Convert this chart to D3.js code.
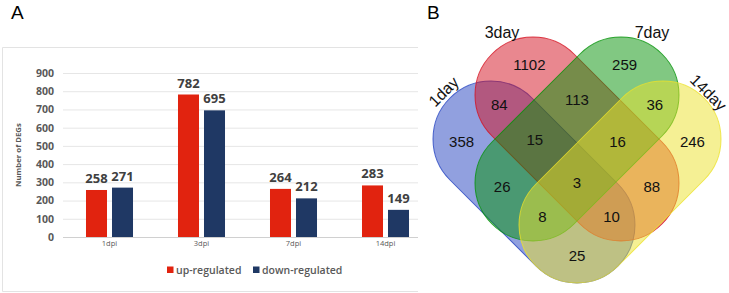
<!DOCTYPE html>
<html>
<head>
<meta charset="utf-8">
<script src="https://cdn.jsdelivr.net/npm/d3@7"></script>
<style>
  body { margin: 0; background: #fff; }
  svg { display: block; }
</style>
</head>
<body>
<svg id="fig" width="729" height="293"></svg>
<script>
// Panel A data
const timepoints = ["1dpi", "3dpi", "7dpi", "14dpi"];
const seriesNames = ["up-regulated", "down-regulated"];
const upValues = [258, 782, 264, 283];
const downValues = [271, 695, 212, 149];
const yTicks = [0, 100, 200, 300, 400, 500, 600, 700, 800, 900];

// Panel B data
const setNames = ["1day", "3day", "7day", "14day"];
// membership key: 1day 3day 7day 14day
const regionKeys = ["1000", "0100", "0010", "0001", "1100", "1010", "1001", "0110", "0101", "0011",
  "1110", "1101", "1011", "0111", "1111"];
const regionCounts = [358, 1102, 259, 246, 84, 26, 25, 113, 88, 36, 15, 10, 8, 16, 3];

const BAR_COLORS = ["#e1230f", "#1f3864"];
const SET_COLORS = ["#2342c0", "#d4101f", "#039206", "#ece22a"];

const svg = d3.select("#fig");

// ---------- Panel A ----------
svg.append("text")
  .attr("x", 11).attr("y", 19)
  .style("font-family", "Liberation Sans, Arial, sans-serif")
  .style("font-size", "19px")
  .text("A");

// chart frame (right edge is cut)
const frame = svg.append("g").style("stroke", "#e3e3e3").style("stroke-width", 1);
frame.append("line").attr("x1", 2.5).attr("x2", 418).attr("y1", 47.5).attr("y2", 47.5);
frame.append("line").attr("x1", 2.5).attr("x2", 418).attr("y1", 291.5).attr("y2", 291.5);
frame.append("line").attr("x1", 2.5).attr("x2", 2.5).attr("y1", 47.5).attr("y2", 291.5);

const xScale = d3.scaleBand().domain(timepoints).range([63.5, 431.5]);
const xInner = d3.scaleBand().domain(seriesNames).range([0, xScale.bandwidth()])
  .paddingInner(0.192).paddingOuter(0.865);
const yScale = d3.scaleLinear().domain([0, 900]).range([237, 73]);

// Y grid
const yGrid = d3.axisLeft(yScale).tickValues(yTicks).tickSize(-(418 - 63)).tickFormat("");
svg.append("g")
  .attr("transform", "translate(63,0)")
  .call(yGrid)
  .call((g) => g.select(".domain").remove())
  .call((g) => g.selectAll("line").style("stroke", (d) => (d === 0 ? "#d0d0d0" : "#e6e6e6")));

// Y axis labels
const yAxis = d3.axisLeft(yScale).tickValues(yTicks).tickSize(0).tickPadding(0);
svg.append("g")
  .attr("transform", "translate(54,0)")
  .call(yAxis)
  .call((g) => g.select(".domain").remove())
  .selectAll("text")
  .style("font-family", "Open Sans, sans-serif")
  .style("font-size", "10.5px")
  .style("font-weight", "bold")
  .style("fill", "#595959");

svg.append("text")
  .attr("transform", "translate(21,155) rotate(-90)")
  .attr("text-anchor", "middle")
  .style("font-family", "Open Sans, sans-serif")
  .style("font-size", "7.8px")
  .style("font-weight", "bold")
  .style("fill", "#595959")
  .text("Number of DEGs");

// X axis labels
const xAxis = d3.axisBottom(xScale).tickSize(0).tickPadding(0);
svg.append("g")
  .attr("transform", "translate(0,241)")
  .call(xAxis)
  .call((g) => g.select(".domain").remove())
  .selectAll("text")
  .style("font-family", "Open Sans, sans-serif")
  .style("font-size", "7.5px")
  .style("fill", "#595959");

// Bars
const barData = [];
timepoints.forEach((t, i) => {
  barData.push({ t: t, s: seriesNames[0], v: upValues[i], c: BAR_COLORS[0] });
  barData.push({ t: t, s: seriesNames[1], v: downValues[i], c: BAR_COLORS[1] });
});

const bars = svg.append("g");
bars.selectAll("rect")
  .data(barData)
  .enter()
  .append("rect")
  .attr("x", (d) => xScale(d.t) + xInner(d.s))
  .attr("width", xInner.bandwidth())
  .attr("y", (d) => yScale(d.v))
  .attr("height", (d) => yScale(0) - yScale(d.v))
  .style("fill", (d) => d.c);

bars.selectAll("text")
  .data(barData)
  .enter()
  .append("text")
  .attr("x", (d) => xScale(d.t) + xInner(d.s) + xInner.bandwidth() / 2)
  .attr("y", (d) => yScale(d.v) - 7)
  .attr("text-anchor", "middle")
  .style("font-family", "Open Sans, sans-serif")
  .style("font-size", "13px")
  .style("font-weight", "bold")
  .style("fill", "#404040")
  .text((d) => d.v);

// Legend
const legendX = [167, 253];
const legend = svg.append("g");
seriesNames.forEach((s, i) => {
  legend.append("rect")
    .attr("x", legendX[i]).attr("y", 266.5)
    .attr("width", 6.5).attr("height", 6.5)
    .style("fill", BAR_COLORS[i]);
  legend.append("text")
    .attr("x", legendX[i] + 9).attr("y", 273.5)
    .style("font-family", "Open Sans, sans-serif")
    .style("font-size", "10.5px")
    .style("font-weight", 600)
    .style("fill", "#595959")
    .text(s);
});

// ---------- Panel B ----------
svg.append("text")
  .attr("x", 427).attr("y", 19)
  .style("font-family", "Liberation Sans, Arial, sans-serif")
  .style("font-size", "19px")
  .text("B");

// capsule layout (two end-circle centres and radius)
const vx = 577;
const rad = 58;
const capsules = [
  { a: [vx - 86, 139], b: [vx, 225] },        // 1day
  { a: [vx - 44, 95], b: [vx + 44, 183] },    // 3day
  { a: [vx + 44, 95], b: [vx - 44, 183] },    // 7day
  { a: [vx + 86, 139], b: [vx, 225] },        // 14day
];

const venn = svg.append("g");
capsules.forEach((c, i) => {
  const dx = c.b[0] - c.a[0];
  const dy = c.b[1] - c.a[1];
  const len = Math.hypot(dx, dy);
  const ang = (Math.atan2(dy, dx) * 180) / Math.PI;
  const mx = (c.a[0] + c.b[0]) / 2;
  const my = (c.a[1] + c.b[1]) / 2;
  venn.append("rect")
    .attr("x", -len / 2 - rad).attr("y", -rad)
    .attr("width", len + 2 * rad).attr("height", 2 * rad)
    .attr("rx", rad).attr("ry", rad)
    .attr("transform", `translate(${mx},${my}) rotate(${ang})`)
    .style("fill", SET_COLORS[i])
    .style("fill-opacity", 0.5)
    .style("stroke", SET_COLORS[i])
    .style("stroke-opacity", 0.8)
    .style("stroke-width", 1);
});

// signed distance of a point to a capsule boundary (negative inside)
const capsuleDist = (p, c) => {
  const dx = c.b[0] - c.a[0];
  const dy = c.b[1] - c.a[1];
  let t = ((p[0] - c.a[0]) * dx + (p[1] - c.a[1]) * dy) / (dx * dx + dy * dy);
  t = Math.max(0, Math.min(1, t));
  return Math.hypot(p[0] - (c.a[0] + t * dx), p[1] - (c.a[1] + t * dy)) - rad;
};

// label spot for each region: mix of the centroid and the point farthest from any boundary
const best = {};
const sums = {};
for (let x = 420; x <= 729; x += 1) {
  for (let y = 30; y <= 293; y += 1) {
    const ds = capsules.map((c) => capsuleDist([x, y], c));
    const key = ds.map((d) => (d < 0 ? "1" : "0")).join("");
    if (key === "0000") continue;
    const m = d3.min(ds, (d) => Math.abs(d));
    if (!best[key] || m > best[key].m) best[key] = { m: m, x: x, y: y };
    if (!sums[key]) sums[key] = { n: 0, x: 0, y: 0 };
    sums[key].n += 1;
    sums[key].x += x;
    sums[key].y += y;
  }
}

regionKeys.forEach((k, i) => {
  const p = best[k];
  const s = sums[k];
  if (!p) return;
  const cx = (p.x + s.x / s.n) / 2;
  const cy = (p.y + s.y / s.n) / 2;
  venn.append("text")
    .attr("x", cx).attr("y", cy)
    .attr("text-anchor", "middle")
    .attr("dominant-baseline", "central")
    .style("font-family", "Liberation Sans, Arial, sans-serif")
    .style("font-size", "15px")
    .style("fill", "#111")
    .text(regionCounts[i]);
});

// set names
const off = (rad + 9) * Math.SQRT1_2;
const setLabelPos = [
  { p: [capsules[0].a[0] - off, capsules[0].a[1] - off], rot: -45 },
  { p: [capsules[1].a[0] - 31, capsules[1].a[1] - 63], rot: 0 },
  { p: [capsules[2].a[0] + 31, capsules[2].a[1] - 63], rot: 0 },
  { p: [capsules[3].a[0] + off - 2, capsules[3].a[1] - off + 1], rot: 45 },
];
setNames.forEach((s, i) => {
  const l = setLabelPos[i];
  venn.append("text")
    .attr("transform", `translate(${l.p[0]},${l.p[1]}) rotate(${l.rot})`)
    .attr("text-anchor", "middle")
    .attr("dominant-baseline", "central")
    .style("font-family", "Liberation Sans, Arial, sans-serif")
    .style("font-size", "16px")
    .style("fill", "#111")
    .text(s);
});
</script>
</body>
</html>
